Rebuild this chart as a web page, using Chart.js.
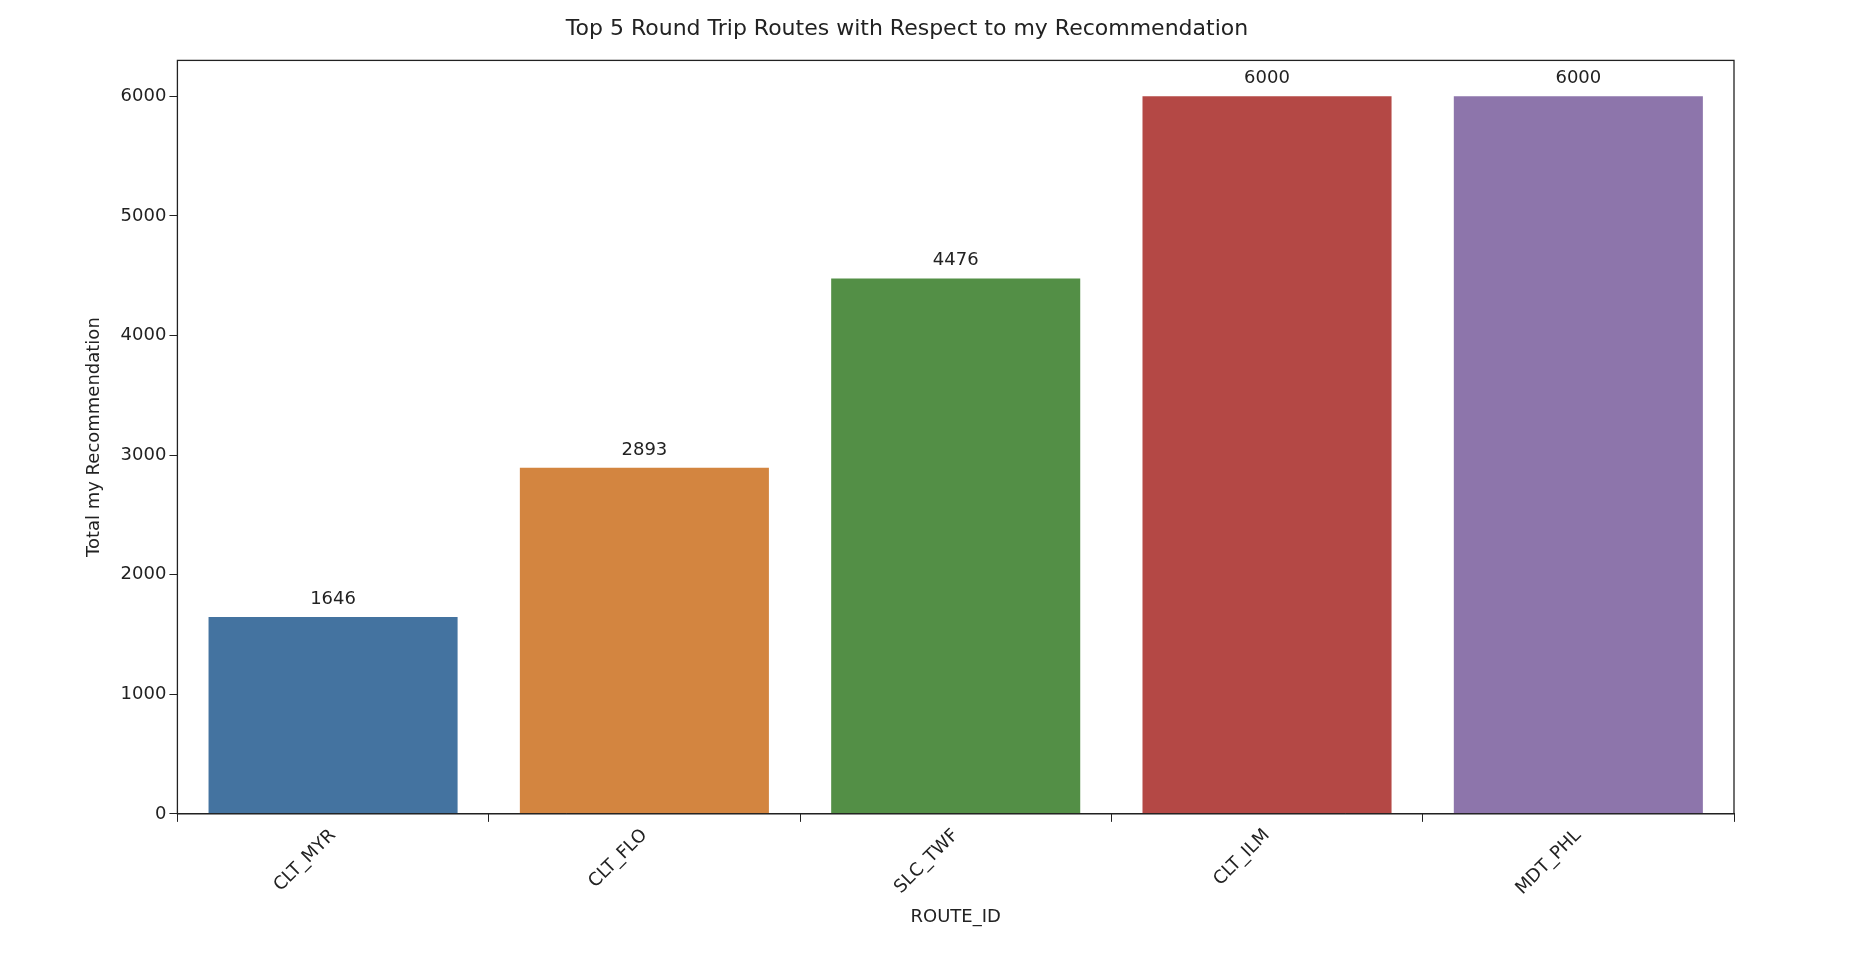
<!DOCTYPE html>
<html><head><meta charset="utf-8">
<script src="https://cdn.jsdelivr.net/npm/chart.js@4/dist/chart.umd.min.js"></script>
<style>html,body{margin:0;background:#fff}#w{width:1864px;height:972px}</style>
</head><body><div id="w"><canvas id="c"></canvas></div>
<script>
const categories = ["CLT_MYR","CLT_FLO","SLC_TWF","CLT_ILM","MDT_PHL"];
const values = [1646, 2893, 4476, 6000, 6000];
const colors = ["#4473a0","#d38540","#538f46","#b44845","#8d75ab"];
const yTicks = [0,1000,2000,3000,4000,5000,6000];
const F = "'DejaVu Sans', sans-serif";
const frame = {id:'frame', afterDraw(c){const a=c.chartArea,x=c.ctx;x.save();x.strokeStyle='#222';x.lineWidth=1.3;x.strokeRect(a.left,a.top,a.right-a.left,a.bottom-a.top);
 const m=c.getDatasetMeta(0);x.fillStyle='#222';x.font='18px '+F;x.textAlign='center';x.textBaseline='bottom';
 m.data.forEach((b,i)=>x.fillText(String(values[i]),b.x,b.y-9));x.restore();}};
new Chart(document.getElementById('c'),{type:'bar',
 data:{labels:categories,datasets:[{data:values,backgroundColor:colors,barPercentage:0.8,categoryPercentage:1}]},
 options:{responsive:true,maintainAspectRatio:false,animation:false,
  layout:{padding:{top:49,right:130,left:80,bottom:40}},
  plugins:{legend:{display:false},tooltip:{enabled:false},
   title:{display:true,text:"Top 5 Round Trip Routes with Respect to my Recommendation",color:'#222',font:{family:F,size:22,weight:'normal'},padding:{top:-33,bottom:18}}},
  scales:{
   x:{grid:{drawOnChartArea:false,color:'#222',tickLength:8},border:{color:'#222'},
      ticks:{color:'#222',font:{family:F,size:18},maxRotation:45,minRotation:45},
      title:{display:true,text:'ROUTE_ID',color:'#222',font:{family:F,size:18}}},
   y:{min:0,max:6300,afterBuildTicks(s){s.ticks=yTicks.map(v=>({value:v}));},
      grid:{drawOnChartArea:false,color:'#222',tickLength:8},border:{color:'#222'},
      ticks:{color:'#222',font:{family:F,size:18},callback:v=>String(v)},
      title:{display:true,text:'Total my Recommendation',color:'#222',font:{family:F,size:18},padding:{bottom:12}}}
  }},plugins:[frame]});
</script></body></html>
